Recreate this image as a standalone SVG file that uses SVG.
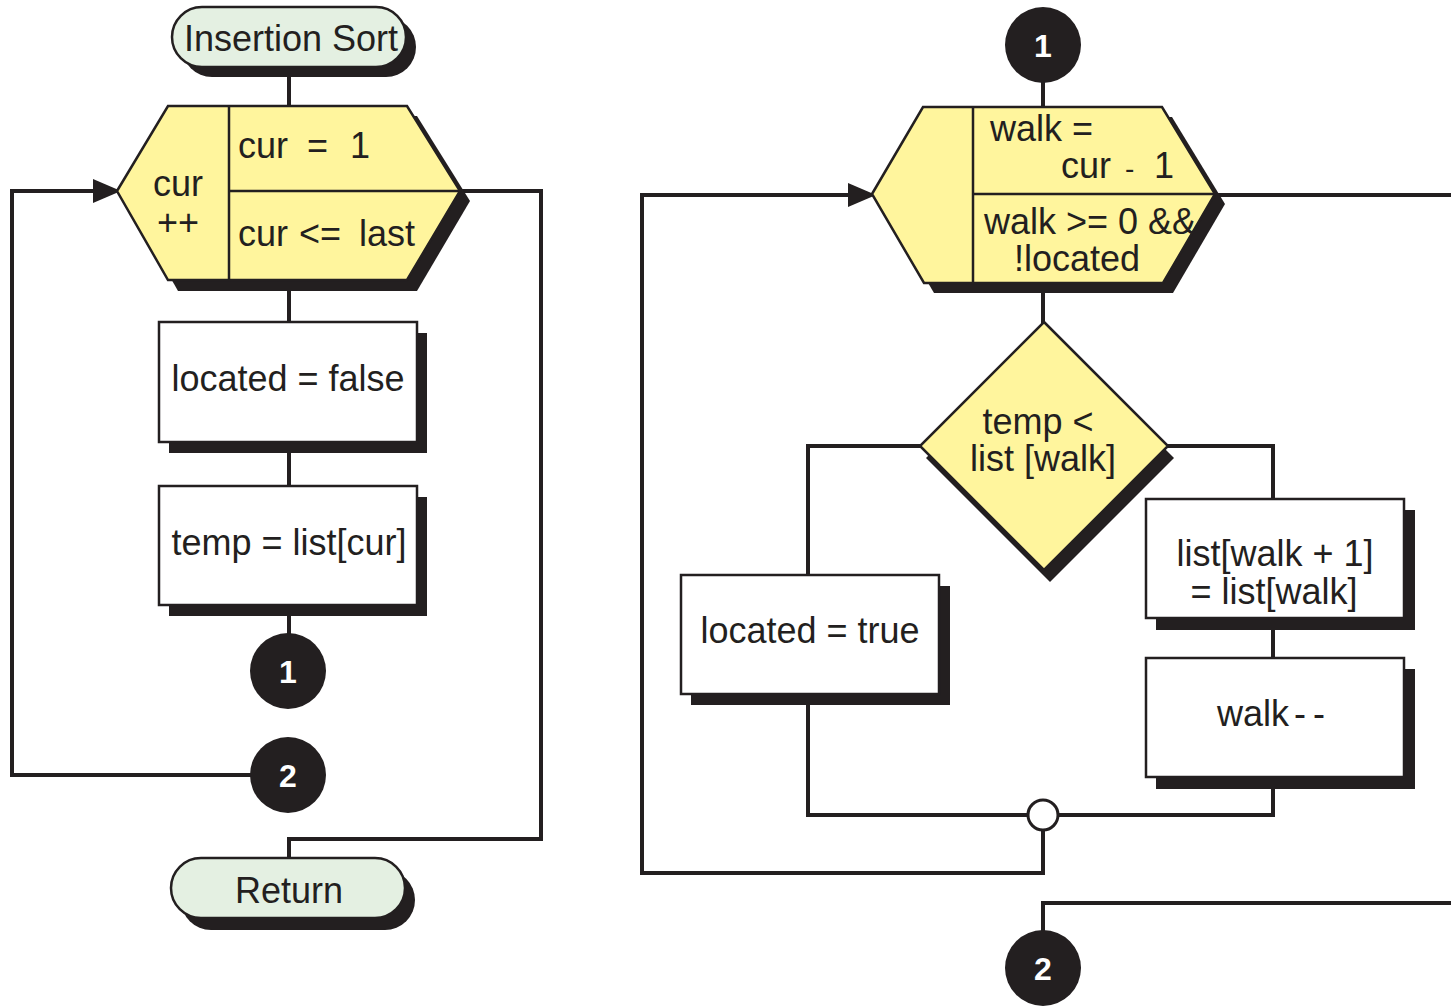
<svg xmlns="http://www.w3.org/2000/svg" width="1451" height="1006" viewBox="0 0 1451 1006">
  <style>
    .shadow { fill: #231f20; }
    .term { fill: #e4f0e2; stroke: #231f20; stroke-width: 2.5; }
    .box { fill: #ffffff; stroke: #231f20; stroke-width: 2.5; }
    .prep { fill: #fff59d; stroke: #231f20; stroke-width: 2.5; stroke-linejoin: miter; }
    .div { stroke: #231f20; stroke-width: 2.5; fill: none; }
    .conn { fill: none; stroke: #231f20; stroke-width: 4; stroke-linejoin: miter; stroke-linecap: square; }
    .label { font-family: "Liberation Sans", Arial, Helvetica, sans-serif; font-size: 36px; fill: #231f20; }
    .mid { text-anchor: middle; }
    .dot { fill: #231f20; }
    .num { font-family: "Liberation Sans", Arial, Helvetica, sans-serif; font-size: 32px; font-weight: bold; fill: #ffffff; text-anchor: middle; }
    .junction { fill: #ffffff; stroke: #231f20; stroke-width: 3; }
  </style>
  <defs>
    <marker id="arrow" markerUnits="userSpaceOnUse" markerWidth="28" markerHeight="26" refX="12" refY="13" orient="auto">
      <path d="M0,1 L28,13 L0,25 Z" fill="#231f20"/>
    </marker>
  </defs>

  <!-- connectors -->
  <g id="connectors">
    <path class="conn" d="M289 67 V105"/>
    <path class="conn" d="M289 280 V322"/>
    <path class="conn" d="M289 442 V486"/>
    <path class="conn" d="M289 605 V633"/>
    <path class="conn" d="M250 775 H12 V191 H105" marker-end="url(#arrow)"/>
    <path class="conn" d="M460 191 H541 V839 H289 V858"/>
    <path class="conn" d="M1043 83 V107"/>
    <path class="conn" d="M1043 283 V322"/>
    <path class="conn" d="M920 446 H808 V575"/>
    <path class="conn" d="M1168 446 H1273 V499"/>
    <path class="conn" d="M1273 618 V658"/>
    <path class="conn" d="M808 705 V815 H1028"/>
    <path class="conn" d="M1273 789 V815 H1058"/>
    <path class="conn" d="M1043 830 V873 H642 V195 H860" marker-end="url(#arrow)"/>
    <path class="conn" d="M1215 195 H1455"/>
    <path class="conn" d="M1043 930 V903 H1455"/>
  </g>

  <!-- start terminal -->
  <g id="start">
    <rect class="shadow" x="182" y="17" width="234" height="60" rx="30"/>
    <rect class="term" x="172" y="7" width="234" height="60" rx="30"/>
    <text class="label mid" x="291" y="51">Insertion Sort</text>
  </g>

  <!-- outer for-loop -->
  <g id="loop-cur">
    <polygon class="shadow" points="127,201 178,116 417,116 470,201 417,291 178,291"/>
    <polygon class="prep" points="117,191 168,106 407,106 460,191 407,280 168,280"/>
    <line class="div" x1="229" y1="106" x2="229" y2="280"/>
    <line class="div" x1="229" y1="191" x2="460" y2="191"/>
    <text class="label mid" x="178" y="196">cur</text>
    <text class="label mid" x="178" y="235">++</text>
    <text class="label" x="238" y="158">cur<tspan x="307">=</tspan><tspan x="350">1</tspan></text>
    <text class="label" x="238" y="246">cur<tspan x="299">&lt;=</tspan><tspan x="359">last</tspan></text>
  </g>

  <g id="set-located-false">
    <rect class="shadow" x="169" y="333" width="258" height="120"/>
    <rect class="box" x="159" y="322" width="258" height="120"/>
    <text class="label mid" x="288" y="391">located = false</text>
  </g>

  <g id="set-temp">
    <rect class="shadow" x="169" y="497" width="258" height="119"/>
    <rect class="box" x="159" y="486" width="258" height="119"/>
    <text class="label mid" x="289" y="555">temp = list[cur]</text>
  </g>

  <g id="off-page-1a">
    <circle class="dot" cx="288" cy="671" r="38"/>
    <text class="num" x="288" y="683">1</text>
  </g>

  <g id="off-page-2a">
    <circle class="dot" cx="288" cy="775" r="38"/>
    <text class="num" x="288" y="787">2</text>
  </g>

  <g id="return">
    <rect class="shadow" x="181" y="870" width="234" height="60" rx="30"/>
    <rect class="term" x="171" y="858" width="234" height="60" rx="30"/>
    <text class="label mid" x="289" y="903">Return</text>
  </g>

  <!-- inner loop (continuation) -->
  <g id="off-page-1b">
    <circle class="dot" cx="1043" cy="45" r="38"/>
    <text class="num" x="1043" y="57">1</text>
  </g>

  <g id="loop-walk">
    <polygon class="shadow" points="882,204 933,117 1172,117 1225,204 1173,293 934,293"/>
    <polygon class="prep" points="872,194 923,107 1162,107 1215,194 1163,283 924,283"/>
    <line class="div" x1="973" y1="107" x2="973" y2="283"/>
    <line class="div" x1="973" y1="194" x2="1215" y2="194"/>
    <text class="label" x="990" y="141">walk =</text>
    <text class="label" x="1061" y="178">cur<tspan x="1125" font-size="28">-</tspan><tspan x="1154">1</tspan></text>
    <text class="label" x="984" y="234">walk &gt;= 0 &amp;&amp;</text>
    <text class="label" x="1014" y="271">!located</text>
  </g>

  <g id="compare">
    <polygon class="shadow" points="1050,334 1174,458 1050,582 926,458"/>
    <polygon class="prep" points="1044,322 1168,446 1044,570 920,446"/>
    <text class="label mid" x="1038" y="434">temp &lt;</text>
    <text class="label mid" x="1043" y="471">list [walk]</text>
  </g>

  <g id="set-located-true">
    <rect class="shadow" x="691" y="586" width="259" height="119"/>
    <rect class="box" x="681" y="575" width="258" height="119"/>
    <text class="label mid" x="810" y="643">located = true</text>
  </g>

  <g id="shift">
    <rect class="shadow" x="1156" y="510" width="259" height="120"/>
    <rect class="box" x="1146" y="499" width="258" height="119"/>
    <text class="label mid" x="1275" y="566">list[walk + 1]</text>
    <text class="label mid" x="1274" y="604">= list[walk]</text>
  </g>

  <g id="decrement">
    <rect class="shadow" x="1156" y="669" width="259" height="120"/>
    <rect class="box" x="1146" y="658" width="258" height="119"/>
    <text class="label" x="1217" y="726">walk<tspan dx="5">-</tspan><tspan dx="7">-</tspan></text>
  </g>

  <g id="join">
    <circle class="junction" cx="1043" cy="815" r="15"/>
  </g>

  <g id="off-page-2b">
    <circle class="dot" cx="1043" cy="968" r="38"/>
    <text class="num" x="1043" y="980">2</text>
  </g>
</svg>
